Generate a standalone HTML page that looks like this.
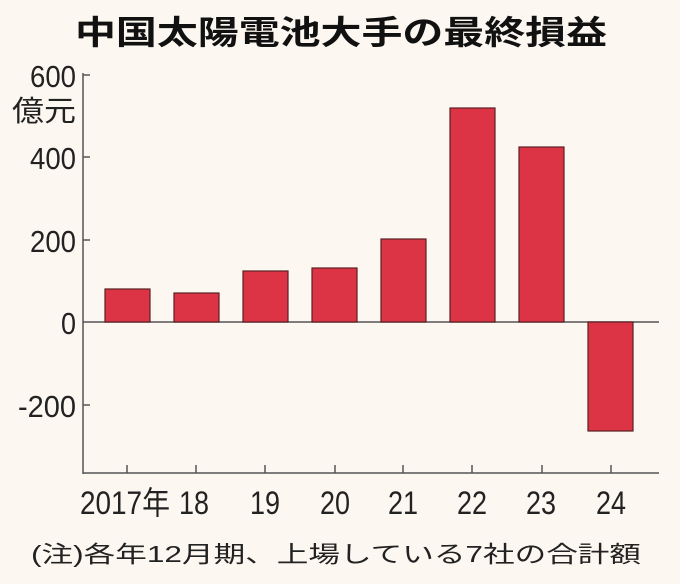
<!DOCTYPE html>
<html><head><meta charset="utf-8"><style>
html,body{margin:0;padding:0;background:#fdf7f1;}
svg{display:block}
</style></head><body>
<svg width="680" height="584" xmlns="http://www.w3.org/2000/svg">
<rect width="680" height="584" fill="#fdf7f1"/>
<text x="341" y="44" text-anchor="middle" font-family="'Liberation Sans','Noto Sans CJK JP',sans-serif" font-weight="bold" font-size="33" fill="#111" textLength="532" lengthAdjust="spacingAndGlyphs">中国太陽電池大手の最終損益</text>
<g font-family="'Liberation Sans Narrow','Liberation Sans','Noto Sans CJK JP',sans-serif" font-size="31" fill="#222" text-anchor="end">
<text x="76" y="87" textLength="46" lengthAdjust="spacingAndGlyphs">600</text>
<text x="76" y="121" textLength="64" lengthAdjust="spacingAndGlyphs" font-size="29">億元</text>
<text x="76" y="169" textLength="46" lengthAdjust="spacingAndGlyphs">400</text>
<text x="76" y="252" textLength="46" lengthAdjust="spacingAndGlyphs">200</text>
<text x="76" y="334" textLength="15" lengthAdjust="spacingAndGlyphs">0</text>
<text x="76" y="417" textLength="58" lengthAdjust="spacingAndGlyphs">-200</text>
</g>
<g stroke="#555" stroke-width="1.5" fill="none">
<line x1="83" y1="73" x2="83" y2="474"/>
<line x1="83" y1="75" x2="90" y2="75"/>
<line x1="83" y1="157" x2="90" y2="157"/>
<line x1="83" y1="240" x2="90" y2="240"/>
<line x1="83" y1="405" x2="90" y2="405"/>
<line x1="83" y1="473" x2="659" y2="473"/>
<line x1="83" y1="322" x2="659" y2="322"/>
<line x1="127" y1="473" x2="127" y2="465"/>
<line x1="196" y1="473" x2="196" y2="465"/>
<line x1="265" y1="473" x2="265" y2="465"/>
<line x1="335" y1="473" x2="335" y2="465"/>
<line x1="403" y1="473" x2="403" y2="465"/>
<line x1="472" y1="473" x2="472" y2="465"/>
<line x1="542" y1="473" x2="542" y2="465"/>
<line x1="611" y1="473" x2="611" y2="465"/>
</g>
<g fill="#dc3444" stroke="#5a2024" stroke-width="1.2">
<rect x="105" y="289" width="45" height="33"/>
<rect x="174" y="293" width="45" height="29"/>
<rect x="243" y="271" width="45" height="51"/>
<rect x="312" y="268" width="45" height="54"/>
<rect x="381" y="239" width="45" height="83"/>
<rect x="450" y="108" width="45" height="214"/>
<rect x="519" y="147" width="45" height="175"/>
<rect x="588" y="322" width="45" height="109"/>
</g>
<g font-family="'Liberation Sans Narrow','Liberation Sans','Noto Sans CJK JP',sans-serif" font-size="32" fill="#222" text-anchor="middle">
<text x="125" y="514" textLength="90" lengthAdjust="spacingAndGlyphs">2017年</text>
<text x="194" y="514" textLength="30" lengthAdjust="spacingAndGlyphs">18</text>
<text x="265" y="514" textLength="30" lengthAdjust="spacingAndGlyphs">19</text>
<text x="335" y="514" textLength="30" lengthAdjust="spacingAndGlyphs">20</text>
<text x="403" y="514" textLength="30" lengthAdjust="spacingAndGlyphs">21</text>
<text x="472" y="514" textLength="30" lengthAdjust="spacingAndGlyphs">22</text>
<text x="541" y="514" textLength="30" lengthAdjust="spacingAndGlyphs">23</text>
<text x="611" y="514" textLength="30" lengthAdjust="spacingAndGlyphs">24</text>
</g>
<text x="31" y="562" font-family="'Liberation Sans','Noto Sans CJK JP',sans-serif" font-size="23" fill="#222" textLength="610" lengthAdjust="spacingAndGlyphs">(注)各年12月期、上場している7社の合計額</text>
</svg>
</body></html>
